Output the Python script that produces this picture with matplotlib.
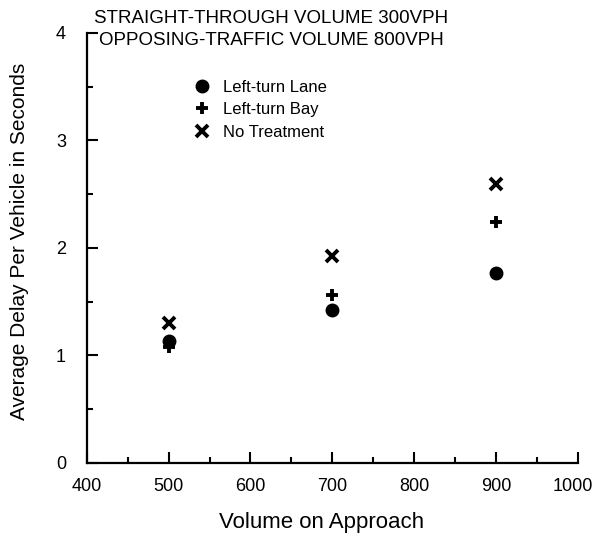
import matplotlib
matplotlib.use("Agg")
import matplotlib.pyplot as plt
from matplotlib.ticker import MultipleLocator, FuncFormatter

# ------------------ Datos ------------------
volumen = [500, 700, 900]
carril_izq = [1.13, 1.42, 1.77]      # Left-turn Lane
bahia_izq = [1.08, 1.56, 2.24]       # Left-turn Bay
sin_tratamiento = [1.30, 1.92, 2.59] # No Treatment

series = [
    ("Left-turn Lane", carril_izq, "o"),
    ("Left-turn Bay", bahia_izq, "+"),
    ("No Treatment", sin_tratamiento, "x"),
]

plt.rcParams['font.family'] = ['Liberation Sans', 'DejaVu Sans']

fig = plt.figure(figsize=(5.94, 5.37), dpi=100)
ax = fig.add_axes([0.146, 0.138, 0.827, 0.801])

for nombre, valores, m in series:
    if m == "o":
        ax.plot(volumen, valores, ls="none", marker=m, ms=9, color="black", label=nombre)
    else:
        ax.plot(volumen, valores, ls="none", marker=m, ms=9, mew=2.8, color="black", label=nombre)

ax.set_xlim(400, 1000)
ax.set_ylim(0, 4)
ax.xaxis.set_major_locator(MultipleLocator(100))
ax.xaxis.set_minor_locator(MultipleLocator(50))
ax.yaxis.set_major_locator(MultipleLocator(1))
ax.yaxis.set_minor_locator(MultipleLocator(0.5))
# la etiqueta 1000 va aparte, un poco corrida para que no se corte en el borde
ax.xaxis.set_major_formatter(FuncFormatter(lambda v, p: "" if v >= 1000 else f"{v:.0f}"))
ax.tick_params(which="major", direction="in", length=8, width=1.5, labelsize=13)
ax.tick_params(which="minor", direction="in", length=4, width=1.5)
ax.tick_params(axis="y", which="major", pad=15)
ax.tick_params(axis="x", which="major", pad=11)
ax.annotate("1000", xy=(1000, 0), xycoords=("data", "axes fraction"),
            xytext=(-4, -11 - 8 * 0), textcoords="offset points",
            ha="center", va="top", fontsize=13)
ax.spines["top"].set_visible(False)
ax.spines["right"].set_visible(False)
ax.spines["left"].set_linewidth(1.6)
ax.spines["bottom"].set_linewidth(1.6)

ax.set_xlabel("Volume on Approach", fontsize=16)
ax.xaxis.set_label_coords(0.479, -0.115)
ax.set_ylabel("Average Delay Per Vehicle in Seconds", fontsize=15)
ax.yaxis.set_label_coords(-0.118, 0.515)

ax.text(0.376, 1.053, "STRAIGHT-THROUGH VOLUME 300VPH\nOPPOSING-TRAFFIC VOLUME 800VPH",
        transform=ax.transAxes, ha="center", va="top", fontsize=13.5, linespacing=1.35)

ax.legend(loc="upper left", bbox_to_anchor=(0.19, 0.918), frameon=False, fontsize=12,
          handletextpad=0.7, labelspacing=0.45, handlelength=1.2, borderpad=0.2)

fig.savefig("out.png", dpi=100)
